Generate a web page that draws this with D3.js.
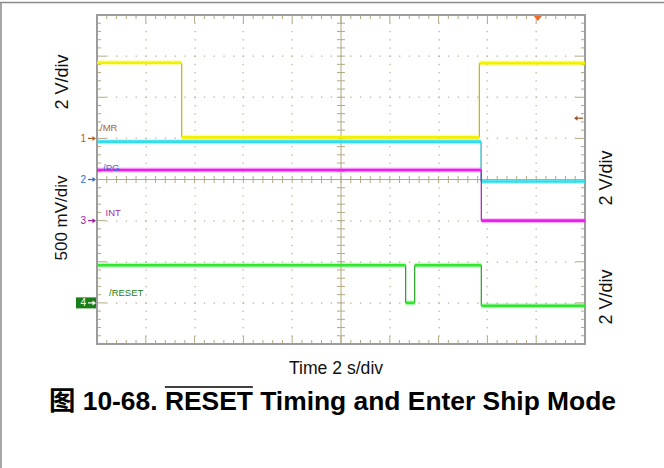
<!DOCTYPE html>
<html><head><meta charset="utf-8">
<script src="https://cdn.jsdelivr.net/npm/d3@7/dist/d3.min.js"></script>
<style>html,body{margin:0;padding:0;background:#fff;}svg{display:block;}</style>
</head><body>
<svg id="c" width="664" height="468"></svg>
<script>
// ---- data ----
const channels = ["1", "2", "3", "4"];
const signalNames = ["/MR", "/PG", "INT", "/RESET"];
const voltsPerDiv = [2, 0.5, 2, 2];              // V/div per channel
const groundDiv = [1, 0, -1, -3];                // ground marker position (divisions from centre)
const scaleLabels = ["2 V/div", "500 mV/div", "2 V/div", "2 V/div"];
const timeLabel = "Time 2 s/div";
const timeRange = [0, 20];                       // 10 div x 2 s
const divRange = [-4, 4];
// step traces: [time (s), volts] step-after
const ch1 = [[0, 3.68], [3.47, 0.05], [15.67, 3.66], [20, 3.66]];
const ch2 = [[0, 0.46], [15.74, -0.025], [20, -0.025]];
const ch3 = [[0, 2.46], [15.75, 0.0], [20, 0.0]];
const ch4 = [[0, 1.83], [12.65, 0.0], [13.02, 1.83], [15.75, -0.14], [20, -0.14]];
const traces = [ch1, ch2, ch3, ch4];
const triggerTime = 18.07;
const triggerLevel = 0.98;                       // volts on ch1
const titlePrefix = "图 10-68. ";
const titleBar = "RESET";
const titleSuffix = " Timing and Enter Ship Mode";

// ---- styles ----
const traceColors = ["#f2f200", "#2ee0ee", "#ee1cee", "#2ee82e"];
const edgeColors = ["#c0b400", "#20b0c0", "#b018b8", "#20a020"];
const markerColors = ["#b0602a", "#2a6ad0", "#a020a0", "#1a7f1a"];
const gridColor = "#bdb394";
const font = "'Liberation Sans', Arial, 'Noto Sans CJK SC', sans-serif";

const svg = d3.select("#c");
const X0 = 97, X1 = 585, Y0 = 15, Y1 = 344;
const x = d3.scaleLinear().domain(timeRange).range([X0, X1]);
const yd = d3.scaleLinear().domain(divRange).range([Y1, Y0]);
const yv = (ch, v) => yd(groundDiv[ch] + v / voltsPerDiv[ch]);

// page frame
svg.append("line").attr("x1", 0).attr("x2", 664).attr("y1", 2.5).attr("y2", 2.5).attr("stroke", "#8a8a8a").attr("stroke-width", 1.5);
svg.append("line").attr("x1", 1).attr("x2", 1).attr("y1", 2).attr("y2", 468).attr("stroke", "#8a8a8a").attr("stroke-width", 1.5);

const g = svg.append("g");
const majorT = d3.range(0, 21, 2);
const minorT = d3.range(0, 20.001, 0.4);
const majorD = d3.range(-4, 4.001, 1);
const minorD = d3.range(-4, 4.001, 0.2);

// dotted grid
const dots = g.append("g").attr("fill", gridColor);
majorD.filter(d => d !== 0 && Math.abs(d) !== 4).forEach(d => {
  minorT.forEach(t => dots.append("rect").attr("x", x(t) - 0.5).attr("y", Math.round(yd(d)) - 0.5).attr("width", 1.3).attr("height", 1.3));
});
majorT.filter(t => t !== 10 && t !== 0 && t !== 20).forEach(t => {
  minorD.forEach(d => dots.append("rect").attr("x", Math.round(x(t)) - 0.5).attr("y", yd(d) - 0.5).attr("width", 1.3).attr("height", 1.3));
});

// centre axes
const axc = g.append("g").attr("stroke", "#b3a885").attr("stroke-width", 1);
axc.append("line").attr("x1", X0).attr("x2", X1).attr("y1", yd(0)).attr("y2", yd(0));
axc.append("line").attr("x1", x(10)).attr("x2", x(10)).attr("y1", Y0).attr("y2", Y1);
minorT.forEach(t => axc.append("line").attr("x1", x(t)).attr("x2", x(t)).attr("y1", yd(0) - 3.5).attr("y2", yd(0) + 3.5));
minorD.forEach(d => axc.append("line").attr("x1", x(10) - 4).attr("x2", x(10) + 4).attr("y1", yd(d)).attr("y2", yd(d)));

// border ticks
const bt = g.append("g").attr("stroke", "#b3a885").attr("stroke-width", 1);
minorT.forEach((t, i) => {
  const L = (i % 5 === 0) ? 8 : 4;
  bt.append("line").attr("x1", x(t)).attr("x2", x(t)).attr("y1", Y0).attr("y2", Y0 + L);
  bt.append("line").attr("x1", x(t)).attr("x2", x(t)).attr("y1", Y1).attr("y2", Y1 - L);
});
minorD.forEach((d, i) => {
  const L = (i % 5 === 0) ? 9 : 4;
  bt.append("line").attr("x1", X0).attr("x2", X0 + L).attr("y1", yd(d)).attr("y2", yd(d));
  bt.append("line").attr("x1", X1).attr("x2", X1 - L).attr("y1", yd(d)).attr("y2", yd(d));
});

// border
g.append("rect").attr("x", X0).attr("y", Y0).attr("width", X1 - X0).attr("height", Y1 - Y0)
  .attr("fill", "none").attr("stroke", "#9c9c9c").attr("stroke-width", 2);

// traces
traces.forEach((tr, ch) => {
  const tg = g.append("g");
  for (let i = 1; i < tr.length - 1; i++) {
    const [t0, v0] = tr[i];
    tg.append("line").attr("x1", x(t0)).attr("x2", x(t0))
      .attr("y1", yv(ch, tr[i - 1][1])).attr("y2", yv(ch, v0))
      .attr("stroke", edgeColors[ch]).attr("stroke-width", 1.2);
  }
  for (let i = 0; i < tr.length - 1; i++) {
    const [t0, v0] = tr[i], [t1] = tr[i + 1];
    tg.append("line").attr("x1", x(t0)).attr("x2", x(t1)).attr("y1", yv(ch, v0)).attr("y2", yv(ch, v0))
      .attr("stroke", traceColors[ch]).attr("stroke-width", 5).attr("opacity", 0.3);
    tg.append("line").attr("x1", x(t0)).attr("x2", x(t1)).attr("y1", yv(ch, v0)).attr("y2", yv(ch, v0))
      .attr("stroke", traceColors[ch]).attr("stroke-width", 2.6);
  }
});

// channel ground markers
channels.forEach((c, ch) => {
  const yy = yd(groundDiv[ch]);
  const col = ch === 3 ? "#fff" : markerColors[ch];
  if (ch === 3) g.append("rect").attr("x", 76).attr("y", yy - 5.5).attr("width", 20).attr("height", 11).attr("fill", markerColors[ch]);
  g.append("text").attr("x", 86).attr("y", yy + 3.5).attr("text-anchor", "end").attr("font-family", font)
    .attr("font-size", 10).attr("fill", col).text(c);
  g.append("line").attr("x1", 88).attr("x2", 94).attr("y1", yy).attr("y2", yy).attr("stroke", col).attr("stroke-width", 1.2);
  g.append("path").attr("d", `M${96},${yy} l-3.5,-2.5 l0,5 z`).attr("fill", col);
});
// signal labels
const labelPos = [[100, 130.5], [103, 171], [105.5, 216], [109, 295.5]];
const labelColors = ["#a8622e", "#3070d0", "#a030a0", "#208020"];
signalNames.forEach((s, ch) => {
  g.append("text").attr("x", labelPos[ch][0]).attr("y", labelPos[ch][1]).attr("font-family", font)
    .attr("font-size", 9.5).attr("fill", labelColors[ch]).text(s);
});

// trigger markers
g.append("path").attr("d", `M${x(triggerTime) - 4},${Y0 + 1} l8,0 l-4,5 z`).attr("fill", "#f06a28");
const ty = yv(0, triggerLevel);
g.append("line").attr("x1", X1 - 10).attr("x2", X1 - 2).attr("y1", ty).attr("y2", ty).attr("stroke", "#a0522d").attr("stroke-width", 1.2);
g.append("path").attr("d", `M${X1 - 11},${ty} l3.5,-2.5 l0,5 z`).attr("fill", "#a0522d");

// scale labels
const scalePos = [[68, 82, 18], [67, 218, 17], [612, 178, 18], [612, 297, 18]];
scaleLabels.forEach((s, i) => {
  svg.append("text").attr("transform", `translate(${scalePos[i][0]},${scalePos[i][1]}) rotate(-90)`)
    .attr("text-anchor", "middle").attr("font-family", font).attr("font-size", scalePos[i][2]).attr("fill", "#111").text(s);
});
svg.append("text").attr("x", 336).attr("y", 373.5).attr("text-anchor", "middle").attr("font-family", font)
  .attr("font-size", 17.6).attr("fill", "#111").text(timeLabel);

// title
const title = svg.append("text").attr("x", 332.5).attr("y", 410).attr("text-anchor", "middle")
  .attr("font-family", font).attr("font-size", 26.4).attr("font-weight", "bold").attr("fill", "#000")
  .text(titlePrefix + titleBar + titleSuffix);
const tn = title.node();
const full = tn.getComputedTextLength();
const startX = 332.5 - full / 2;
const preW = tn.getSubStringLength(0, titlePrefix.length);
const barW = tn.getSubStringLength(titlePrefix.length, titleBar.length);
svg.append("line").attr("x1", startX + preW).attr("x2", startX + preW + barW).attr("y1", 387).attr("y2", 387)
  .attr("stroke", "#000").attr("stroke-width", 1.6);
</script>
</body></html>
